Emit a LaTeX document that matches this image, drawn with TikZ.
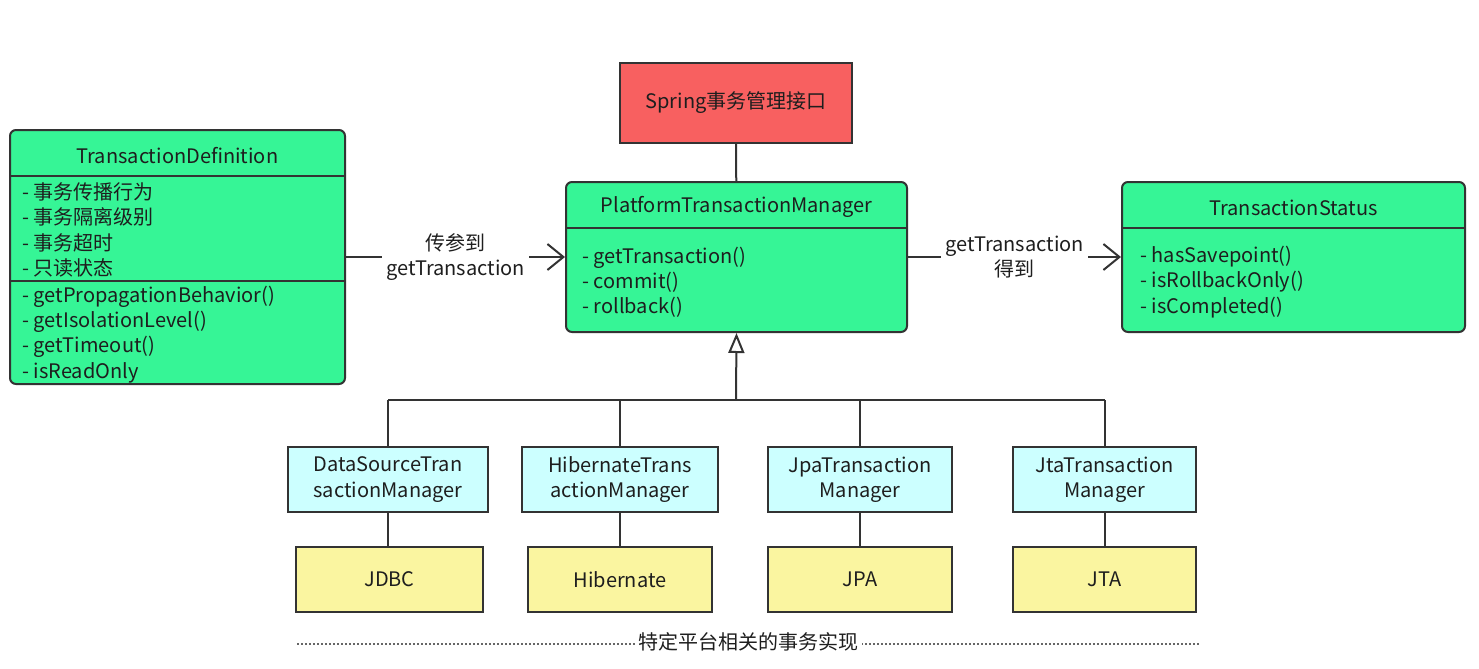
\documentclass[tikz,border=0pt]{standalone}
\usepackage{fontspec}
\setmainfont{Noto Sans CJK SC}
\usetikzlibrary{arrows.meta, positioning}
\definecolor{umlgreen}{RGB}{54, 245, 150}
\definecolor{ifacered}{RGB}{248, 96, 96}
\definecolor{implblue}{RGB}{204, 255, 255}
\definecolor{platyellow}{RGB}{250, 245, 160}
\definecolor{edgegray}{RGB}{51, 51, 51}
\definecolor{txtgray}{RGB}{30, 30, 30}

\begin{document}
\begin{tikzpicture}[
  x=0.5pt, y=-0.5pt,
  font=\fontsize{10}{12.6}\selectfont, text=txtgray,
  cls/.style={draw=edgegray, line width=1pt, fill=umlgreen, rounded corners=3pt, inner sep=0pt},
  divider/.style={draw=edgegray, line width=1pt},
  members/.style={anchor=west, align=left, inner sep=0pt},
  iface/.style={draw=edgegray, line width=1pt, fill=ifacered, minimum width=116pt, minimum height=40pt},
  implbox/.style={draw=edgegray, line width=1pt, fill=implblue, minimum height=32.5pt, align=center, inner sep=0pt},
  platbox/.style={draw=edgegray, line width=1pt, fill=platyellow, minimum height=32.5pt, inner sep=0pt},
  link/.style={draw=edgegray, line width=1pt},
  uses/.style={link, -{Straight Barb[length=8pt, width=13pt, line width=1pt]}},
  edgelabel/.style={fill=white, align=center, inner sep=2pt}
]
  \useasboundingbox (0,0) rectangle (1479,669);

  % interface on top
  \node[iface] (spring) at (736,103) {Spring事务管理接口};

  % the three uml classes
  \node[cls, minimum width=167.5pt, minimum height=127pt] (tdef) at (177.5,257) {};
  \node[cls, minimum width=170.5pt, minimum height=75pt] (ptm) at (736.5,257) {};
  \node[cls, minimum width=171.5pt, minimum height=75pt] (tstat) at (1293.5,257) {};

  \draw[divider] ([yshift=-23.5pt]tdef.north west) -- ([yshift=-23.5pt]tdef.north east);
  \draw[divider] ([yshift=-76pt]tdef.north west) -- ([yshift=-76pt]tdef.north east);
  \draw[divider] ([yshift=-23.5pt]ptm.north west) -- ([yshift=-23.5pt]ptm.north east);
  \draw[divider] ([yshift=-23.5pt]tstat.north west) -- ([yshift=-23.5pt]tstat.north east);

  \node (tdeftitle) at (177.5,156) {TransactionDefinition};
  \node[members] (tdefattr) at (22,230) {- 事务传播行为\\- 事务隔离级别\\- 事务超时\\- 只读状态};
  \node[members] (tdefops) at (22,334.5) {- getPropagationBehavior()\\- getIsolationLevel()\\- getTimeout()\\- isReadOnly};

  \node (ptmtitle) at (736.5,207) {PlatformTransactionManager};
  \node[members] (ptmops) at (582,282) {- getTransaction()\\- commit()\\- rollback()};

  \node (tstattitle) at (1293.5,208) {TransactionStatus};
  \node[members] (tstatops) at (1140,282) {- hasSavepoint()\\- isRollbackOnly()\\- isCompleted()};

  \draw[link] (spring) -- (ptm);
  \draw[uses] (tdef.east) -- node[edgelabel] {传参到\\getTransaction} (ptm.west);
  \draw[uses] (ptm.east) -- node[edgelabel] {getTransaction\\得到} (tstat.west);

  % platform implementations
  \node[implbox, minimum width=100pt] (dstm) at (388,479.5) {DataSourceTran\\sactionManager};
  \node[implbox, minimum width=98pt] (hibtm) at (620,479.5) {HibernateTrans\\actionManager};
  \node[implbox, minimum width=92pt] (jpatm) at (860,479.5) {JpaTransaction\\Manager};
  \node[implbox, minimum width=91.5pt] (jtatm) at (1104.5,479.5) {JtaTransaction\\Manager};

  \node[platbox, minimum width=93.5pt] (jdbc) at (389.5,579.5) {JDBC};
  \node[platbox, minimum width=92pt] (hib) at (620,579.5) {Hibernate};
  \node[platbox, minimum width=92pt] (jpa) at (860,579.5) {JPA};
  \node[platbox, minimum width=91.5pt] (jta) at (1104.5,579.5) {JTA};

  \coordinate (bus) at (736,400);
  \draw[link, -{Triangle[open, length=10pt, width=8pt, line width=1pt]}] (bus) -- (ptm.south);
  \draw[link] (dstm.north |- bus) -- (jtatm.north |- bus);
  \foreach \impl/\plat in {dstm/jdbc, hibtm/hib, jpatm/jpa, jtatm/jta} {
    \draw[link] (\impl.north |- bus) -- (\impl.north);
    \draw[link] (\impl.south) -- (\impl.south |- \plat.north);
  }

  % dotted separator
  \coordinate (sepleft) at (297,644);
  \coordinate (sepright) at (1200,644);
  \draw[draw=edgegray!75, line width=1.3pt, dash pattern=on 0.8pt off 1.2pt] (sepleft) -- node[fill=white, inner sep=1.5pt, yshift=1pt] {特定平台相关的事务实现} (sepright);
\end{tikzpicture}
\end{document}
